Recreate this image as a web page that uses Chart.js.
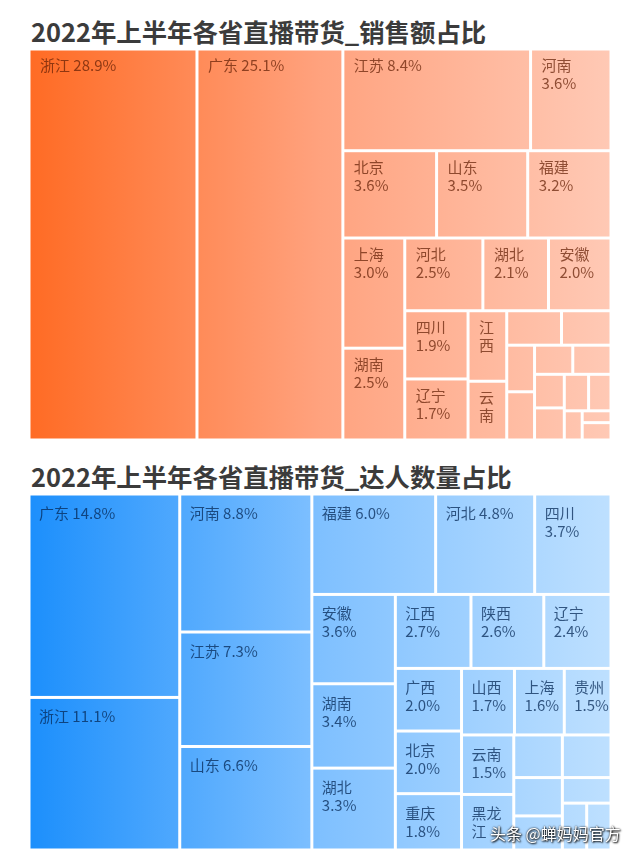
<!DOCTYPE html>
<html lang="zh-CN">
<head>
<meta charset="utf-8">
<title>2022年上半年各省直播带货</title>
<script src="https://cdn.jsdelivr.net/npm/chart.js@4.4.1/dist/chart.umd.min.js"></script>
<style>
  html, body { margin: 0; padding: 0; background: #fff; }
  body { width: 640px; height: 859px; position: relative; overflow: hidden; font-family: "Noto Sans CJK SC", sans-serif; }
  h2 { position: absolute; left: 31px; margin: 0; font-size: 25.4px; line-height: 26px; font-weight: 700; color: #3b3b3b; white-space: nowrap; }
  .box { position: absolute; left: 29px; width: 582px; }
  #sign { position: absolute; left: 490px; top: 825px; font-size: 16px; line-height: 16px; color: #fff; white-space: nowrap;
          text-shadow: 0 0 2px #000, 1px 1px 2px #000; }
</style>
</head>
<body>
<h2 style="top:18px">2022年上半年各省直播带货_销售额占比</h2>
<div class="box" style="top:49px;height:391px"><canvas id="sales"></canvas></div>
<h2 style="top:463px">2022年上半年各省直播带货_达人数量占比</h2>
<div class="box" style="top:494px;height:356px"><canvas id="kols"></canvas></div>
<div id="sign">头条 @蝉妈妈官方</div>
<script>
// 销售额占比 (%), small unlabeled cells estimated from their area
const salesProvinces = ["浙江", "广东", "江苏", "河南", "北京", "山东", "福建", "上海", "湖南", "河北",
  "湖北", "安徽", "四川", "辽宁", "江西", "云南", "广西", "陕西", "重庆", "天津", "贵州", "山西",
  "黑龙江", "吉林", "内蒙古", "新疆", "甘肃", "海南", "宁夏"];
const salesShares = [28.9, 25.1, 8.4, 3.6, 3.6, 3.5, 3.2, 3.0, 2.5, 2.5,
  2.1, 2.0, 1.9, 1.7, 1.2, 1.0, 0.83, 0.75, 0.57, 0.59, 0.49, 0.49, 0.44,
  0.42, 0.39, 0.36, 0.23, 0.15, 0.22];

// 达人数量占比 (%)
const kolProvinces = ["广东", "浙江", "河南", "江苏", "山东", "福建", "河北", "四川", "安徽", "湖南",
  "湖北", "江西", "陕西", "辽宁", "广西", "北京", "重庆", "山西", "上海", "贵州", "云南", "黑龙江",
  "吉林", "天津", "内蒙古", "甘肃", "新疆", "海南", "宁夏"];
const kolShares = [14.8, 11.1, 8.8, 7.3, 6.6, 6.0, 4.8, 3.7, 3.6, 3.4,
  3.3, 2.7, 2.6, 2.4, 2.0, 2.0, 1.8, 1.7, 1.6, 1.5, 1.5, 1.4,
  1.0, 1.0, 0.9, 0.8, 0.6, 0.55, 0.55];

// aspect score of a strip, ratio = preferred thickness/length of a cell
function worst(row, sum, side, ratio) {
  const t = sum / side;
  let w = 0;
  row.forEach(a => {
    const asp = t * t / a;
    w = Math.max(w, ratio / asp, asp / ratio);
  });
  return w;
}

// squarified treemap in a w x h box, values kept in the given order
function squarify(values, w, h, ratio) {
  const total = values.reduce((a, b) => a + b, 0);
  const areas = values.map(v => v / total * w * h);
  const out = [];
  let x = 0, y = 0, i = 0;
  while (i < areas.length) {
    const rw = w - x, rh = h - y;
    const horiz = rw <= rh * 1.03;
    const side = horiz ? rw : rh;
    const row = [areas[i]];
    let sum = areas[i], best = worst(row, sum, side, ratio), j = i + 1;
    while (j < areas.length) {
      const score = worst(row.concat(areas[j]), sum + areas[j], side, ratio);
      if (score > best) break;
      row.push(areas[j]); sum += areas[j]; best = score; j++;
    }
    const thick = j >= areas.length ? (horiz ? rh : rw) : sum / side;
    let pos = horiz ? x : y;
    row.forEach(a => {
      const len = a / thick;
      if (horiz) out.push({ x0: pos, y0: y, x1: pos + len, y1: y + thick });
      else out.push({ x0: x, y0: pos, x1: x + thick, y1: pos + len });
      pos += len;
    });
    if (horiz) y += thick; else x += thick;
    i = j;
  }
  return out;
}

// label lines for a cell, empty when nothing fits
function cellLines(ctx, name, value, w, h) {
  const pct = value.toFixed(1) + "%";
  if (w < 36 || h < 45) return [];
  const one = name + " " + pct;
  if (ctx.measureText(one).width <= w - 26) return [one];
  const avail = w - 16;
  const lines = [];
  let cur = "";
  for (const ch of name) {
    if (cur && ctx.measureText(cur + ch).width > avail) { lines.push(cur); cur = ch; }
    else cur += ch;
  }
  lines.push(cur);
  if (ctx.measureText(pct).width <= w - 12 && (lines.length + 1) * 18 + 12 <= h) lines.push(pct);
  else if (lines.length * 18 + 12 > h) return [];
  return lines;
}

function treemapPlugin(names, values, cfg) {
  return {
    id: "treemap",
    afterDatasetsDraw(chart) {
      const { ctx, chartArea: area, scales: { x, y } } = chart;
      const W = area.right - area.left, H = area.bottom - area.top;
      const cells = squarify(values, W, H, cfg.squareRatio);
      const grad = ctx.createLinearGradient(area.left, 0, area.right, 0);
      cfg.stops.forEach(s => grad.addColorStop(s[0], s[1]));
      ctx.save();
      ctx.font = '15px "Noto Sans CJK SC"';
      ctx.textBaseline = "alphabetic";
      cells.forEach((c, k) => {
        const px0 = x.getPixelForValue(c.x0 / W * 100), px1 = x.getPixelForValue(c.x1 / W * 100);
        const py0 = y.getPixelForValue(c.y0 / H * 100), py1 = y.getPixelForValue(c.y1 / H * 100);
        const g = cfg.gap / 2;
        ctx.fillStyle = grad;
        ctx.fillRect(px0 + g, py0 + g, px1 - px0 - 2 * g, py1 - py0 - 2 * g);
        const lines = cellLines(ctx, names[k], values[k], px1 - px0, py1 - py0);
        ctx.fillStyle = cfg.labelColor;
        lines.forEach((t, n) => ctx.fillText(t, px0 + cfg.padX, py0 + cfg.baseY + n * 18));
      });
      ctx.restore();
    }
  };
}

function makeChart(id, names, values, cfg) {
  return new Chart(document.getElementById(id), {
    type: "scatter",
    data: { datasets: [] },
    options: {
      responsive: true,
      maintainAspectRatio: false,
      animation: false,
      events: [],
      layout: { padding: 0 },
      scales: {
        x: { type: "linear", min: 0, max: 100, display: false },
        y: { type: "linear", min: 0, max: 100, reverse: true, display: false }
      },
      plugins: { legend: { display: false }, tooltip: { enabled: false } }
    },
    plugins: [treemapPlugin(names, values, cfg)]
  });
}

makeChart("sales", salesProvinces, salesShares, {
  squareRatio: 0.83,
  gap: 3,
  stops: [[0, "#ff6b24"], [0.5, "#ffa27e"], [1, "#ffc9b5"]],
  labelColor: "rgba(100, 32, 5, 0.72)",
  padX: 11,
  baseY: 22
});

makeChart("kols", kolProvinces, kolShares, {
  squareRatio: 1,
  gap: 3,
  stops: [[0, "#1c8ffc"], [0.5, "#7fc0ff"], [1, "#bee0ff"]],
  labelColor: "rgba(5, 40, 85, 0.75)",
  padX: 10,
  baseY: 25
});
</script>
</body>
</html>
